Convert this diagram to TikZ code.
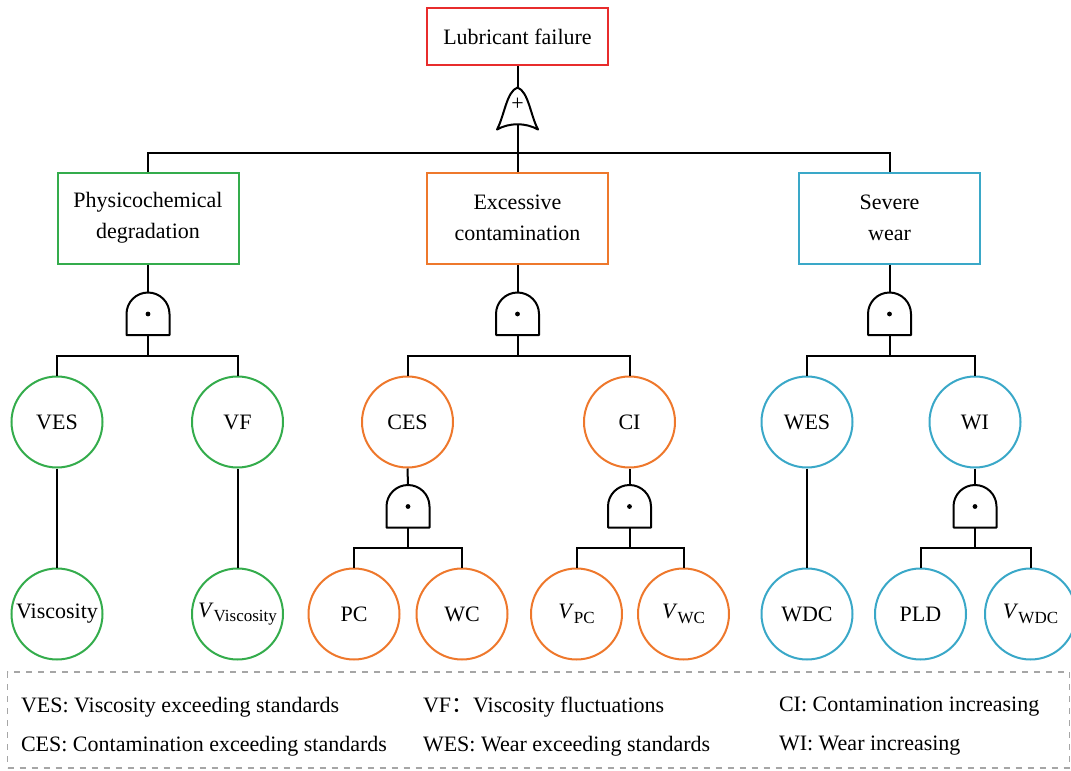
\documentclass[tikz,border=0pt]{standalone}
\usepackage{fontspec}
\setmainfont{Liberation Serif}
\newfontfamily\cjk{Noto Sans CJK SC}

\definecolor{topred}{RGB}{232,44,44}
\definecolor{pdgreen}{RGB}{52,172,76}
\definecolor{ecorange}{RGB}{238,120,44}
\definecolor{swblue}{RGB}{58,168,200}

\newcommand{\Vsub}[1]{\textit{V}\raisebox{-0.45ex}{\fontsize{8.5}{8.5}\selectfont #1}}

\begin{document}
\begin{tikzpicture}[x=0.5pt,y=-0.5pt, line width=1pt, font=\fontsize{11}{15.5}\selectfont]
        \tikzstyle{event}=[
            draw, rectangle, line width=1pt, minimum width=90.5pt, minimum height=45.5pt,
            inner sep=0pt, align=center,
        ]
        \tikzstyle{top event}=[event, draw=topred, minimum height=28.5pt];
        \tikzstyle{basic}=[draw, circle, line width=1pt, minimum size=45.5pt, inner sep=0pt];
        \tikzstyle{legend}=[anchor=west, inner sep=0pt];
        \tikzset{
            and gate/.pic={
                \draw[line join=round] (-10.75pt,0pt) -- (-10.75pt,10.5pt)
                    arc[start angle=180, end angle=0, radius=10.75pt] -- (10.75pt,0pt) -- cycle;
                \fill (0pt,10.5pt) circle (1.2pt);
                \coordinate (-in) at (0pt,21.25pt);
                \coordinate (-out) at (0pt,0pt);
            },
            or gate/.pic={
                \draw[line join=round] (0pt,21pt) .. controls (-5.5pt,19pt) and (-6.5pt,7pt) .. (-10.25pt,0pt)
                    .. controls (-4pt,3.5pt) and (4pt,3.5pt) .. (10.25pt,0pt)
                    .. controls (6.5pt,7pt) and (5.5pt,19pt) .. (0pt,21pt);
                \node[inner sep=0pt, font=\fontsize{11}{11}\selectfont] at (0pt,12.5pt) {+};
                \coordinate (-in) at (0pt,21pt);
                \coordinate (-out) at (0pt,2.6pt);
            },
        }

        \useasboundingbox (0,0) rectangle (1071,771);

        % Draw the top event and the intermediate events
        \node[top event] (lf) at (517.5,36.5) {Lubricant failure};
        \node[event, draw=pdgreen] (pd) at (148,218) {Physicochemical\\degradation};
        \node[event, draw=ecorange] (ec) at (517.5,218) {Excessive\\contamination};
        \node[event, draw=swblue] (sw) at (889.5,218) {Severe\\wear};

        % Draw the gates
        \pic (gor) at (517.5,129.5) {or gate};
        \pic (gpd) at (148,335) {and gate};
        \pic (gec) at (517.5,335) {and gate};
        \pic (gsw) at (889.5,335) {and gate};
        \pic (gces) at (408,527.5) {and gate};
        \pic (gci) at (629.5,527.5) {and gate};
        \pic (gwi) at (975,527.5) {and gate};

        % Draw the middle events
        \node[basic, draw=pdgreen] (ves) at (57,422) {VES};
        \node[basic, draw=pdgreen] (vf) at (237.5,422) {VF};
        \node[basic, draw=ecorange] (ces) at (407.5,422) {CES};
        \node[basic, draw=ecorange] (ci) at (629.5,422) {CI};
        \node[basic, draw=swblue] (wes) at (807,422) {WES};
        \node[basic, draw=swblue] (wi) at (975,422) {WI};

        % Draw the basic events
        \node[basic, draw=pdgreen] (visc) at (57,614) {Viscosity};
        \node[basic, draw=pdgreen] (vvisc) at (237.5,614) {\Vsub{Viscosity}};
        \node[basic, draw=ecorange] (pc) at (354,614) {PC};
        \node[basic, draw=ecorange] (wc) at (462,614) {WC};
        \node[basic, draw=ecorange] (vpc) at (576.5,614) {\Vsub{PC}};
        \node[basic, draw=ecorange] (vwc) at (683.5,614) {\Vsub{WC}};
        \node[basic, draw=swblue] (wdc) at (807,614) {WDC};
        \node[basic, draw=swblue] (pld) at (920.5,614) {PLD};
        \node[basic, draw=swblue] (vwdc) at (1030.5,614) {\Vsub{WDC}};

        % Connect the events with the gates
        \draw (lf.south) -- (gor-in);
        \foreach \kid in {pd,ec,sw}
            \draw (gor-out) -- ++(0,29) -| (\kid.north);
        \draw (pd.south) -- (gpd-in);
        \draw (ec.south) -- (gec-in);
        \draw (sw.south) -- (gsw-in);
        \draw (ces.south) -- (gces-in);
        \draw (ci.south) -- (gci-in);
        \draw (wi.south) -- (gwi-in);
        \foreach \gate/\left/\right in {gpd/ves/vf, gec/ces/ci, gsw/wes/wi, gces/pc/wc, gci/vpc/vwc, gwi/pld/vwdc} {
            \draw (\gate-out) -- ++(0,20.5) -| (\left.north);
            \draw (\gate-out) -- ++(0,20.5) -| (\right.north);
        }
        \draw (ves.south) -- (visc.north);
        \draw (vf.south) -- (vvisc.north);
        \draw (wes.south) -- (wdc.north);

        % Legend
        \node[draw=gray!70, dashed, line width=0.8pt, rectangle, inner sep=0pt,
              minimum width=531pt, minimum height=48pt] (key) at (538.5,720) {};
        \node[legend] (k1) at (20,707) {VES: Viscosity exceeding standards};
        \node[legend] (k2) at (422,707) {VF{\cjk ：}Viscosity fluctuations};
        \node[legend] (k3) at (778,707) {CI: Contamination increasing};
        \node[legend] (k4) at (20,746) {CES: Contamination exceeding standards};
        \node[legend] (k5) at (422,746) {WES: Wear exceeding standards};
        \node[legend] (k6) at (778,746) {WI: Wear increasing};
    \end{tikzpicture}
\end{document}
